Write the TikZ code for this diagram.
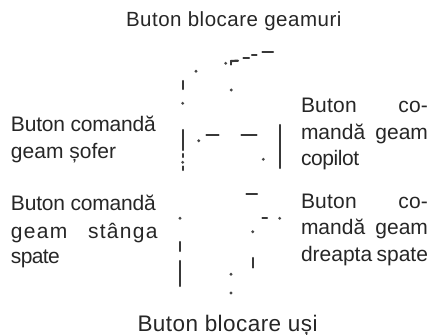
\documentclass[tikz,border=0pt]{standalone}
\usepackage{fontspec}
\setmainfont{Liberation Sans}
\newcommand{\lbl}{\fontsize{21}{25}\selectfont}
\newcommand{\trk}[1]{\addfontfeature{LetterSpace=#1}}
\tikzset{
  lab/.style={anchor=base west,inner sep=0pt,outer sep=0pt,text=black!85,font=\lbl},
  dash mark/.style={draw=black!78,line width=2.2pt,line cap=round},
  dot mark/.style={circle,fill=black!72,draw=none,minimum size=3.2pt,inner sep=0pt}
}
\begin{document}
\begin{tikzpicture}[x=1pt,y=-1pt]
\useasboundingbox (0,0) rectangle (432,335);
% labels
\node[lab] (t) at (126,26) {\fontsize{20.5}{25}\selectfont\trk{2.5}Buton blocare geamuri};
\node[lab] (b) at (137.5,331) {\fontsize{22.5}{27}\selectfont\trk{2}Buton blocare uși};
\node[lab] (l1) at (11,131) {\trk{-1}Buton comandă};
\node[lab] (l2) at (11,158) {geam șofer};
\node[lab] (l3) at (11,210) {\trk{-1}Buton comandă};
\node[lab] (l4) at (11,238) {\hbox to 146.5pt{\trk{6}geam\hfil stânga}};
\node[lab] (l5) at (11,263) {\trk{-3}spate};
\node[lab] (r1) at (301,112) {\hbox to 127pt{\trk{1}Buton\hfil co-}};
\node[lab] (r2) at (301,139) {\hbox to 127pt{mandă\hfil geam}};
\node[lab] (r3) at (301,165) {\trk{-2}copilot};
\node[lab] (r4) at (301,208) {\hbox to 127pt{\trk{1}Buton\hfil co-}};
\node[lab] (r5) at (301,234) {\hbox to 127pt{mandă\hfil geam}};
\node[lab] (r6) at (301,261) {\hbox to 127pt{dreapta\hfil spate}};
% dashes
\foreach \xa/\ya/\xb/\yb in {
 231/64.5/231/61, 231/61/238/60.7, 243.5/58/249/58, 252/55/256.5/55, 262.5/52.3/273/52.3,
 182.7/81/182.7/89, 182.7/130/182.7/150, 182.7/154/182.7/157, 182.7/166.5/182.7/170,
 206.5/135.3/218.5/135.3, 241.5/135.3/256.5/135.3, 279.7/125/279.7/168,
 246.5/194/257/194, 262.5/218.3/267/218.3, 180/242/180/251, 180/261/180/286,
 252.7/258/252.7/267.5}
  \draw[dash mark] (\xa,\ya) -- (\xb,\yb);
% dots
\foreach \x/\y in {196/71.3, 225.7/63.3, 231.3/90, 182.7/103.3, 198.7/140.7, 263.3/159.3, 182.7/162.3,
 180/218.3, 279.7/218.3, 252.7/231.7, 231/274.3, 231/293}
  \node[dot mark] at (\x,\y) {};
\end{tikzpicture}
\end{document}
